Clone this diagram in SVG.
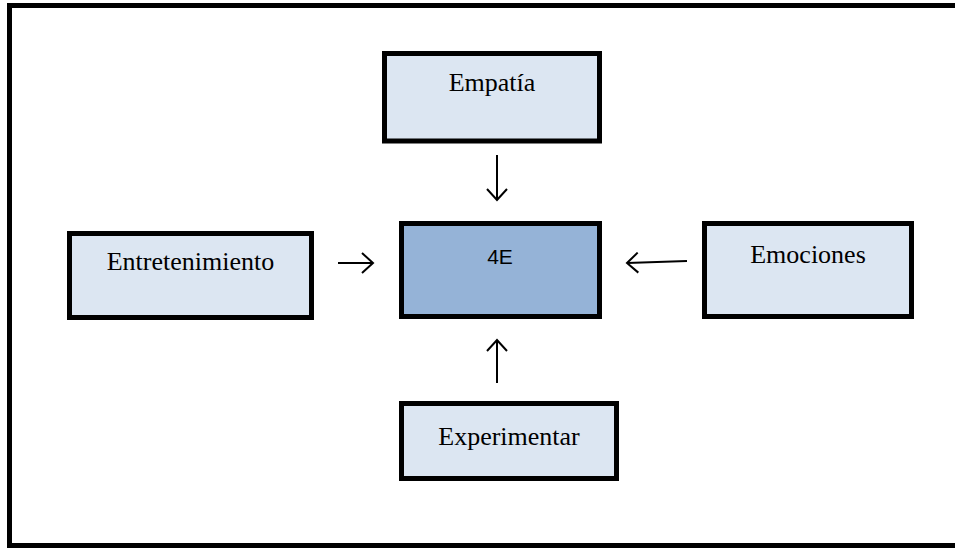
<svg xmlns="http://www.w3.org/2000/svg" width="955" height="548" viewBox="0 0 955 548">
<style>
.box{fill:#DCE6F2;stroke:#000;stroke-width:5}
.core{fill:#95B3D7;stroke:#000;stroke-width:5}
.lbl{font-family:"Liberation Serif","Times New Roman",serif;font-size:26px;fill:#000;text-anchor:middle}
.lbl4{font-family:"Liberation Sans",Arial,sans-serif;font-size:21px;fill:#000;text-anchor:middle}
.conn line{stroke:#000;stroke-width:2}
</style>
<defs>
<marker id="arr" markerWidth="14" markerHeight="22" refX="12" refY="11" orient="auto" markerUnits="userSpaceOnUse">
<polyline points="1,1 12,11 1,21" fill="none" stroke="#000" stroke-width="2"/>
</marker>
</defs>
<rect x="9.5" y="5.5" width="960" height="540" fill="#fff" stroke="#000" stroke-width="5"/>
<g id="empatia">
<rect class="box" x="384.5" y="53.5" width="215" height="87.5"/>
<text class="lbl" x="492" y="91">Empatía</text>
</g>
<g id="entretenimiento">
<rect class="box" x="69.5" y="233.5" width="242" height="84"/>
<text class="lbl" x="190.5" y="270">Entretenimiento</text>
</g>
<g id="core4e">
<rect class="core" x="401.5" y="223.5" width="198" height="93"/>
<text class="lbl4" x="500" y="264">4E</text>
</g>
<g id="emociones">
<rect class="box" x="704.5" y="223.5" width="207" height="93"/>
<text class="lbl" x="808" y="263">Emociones</text>
</g>
<g id="experimentar">
<rect class="box" x="401.5" y="403.5" width="215" height="75"/>
<text class="lbl" x="509" y="445">Experimentar</text>
</g>
<g class="conn" id="connectors">
<line x1="497" y1="155" x2="497" y2="200" marker-end="url(#arr)"/>
<line x1="338" y1="263" x2="373" y2="263" marker-end="url(#arr)"/>
<line x1="687" y1="261" x2="627" y2="263" marker-end="url(#arr)"/>
<line x1="497" y1="383" x2="497" y2="340" marker-end="url(#arr)"/>
</g>
</svg>
